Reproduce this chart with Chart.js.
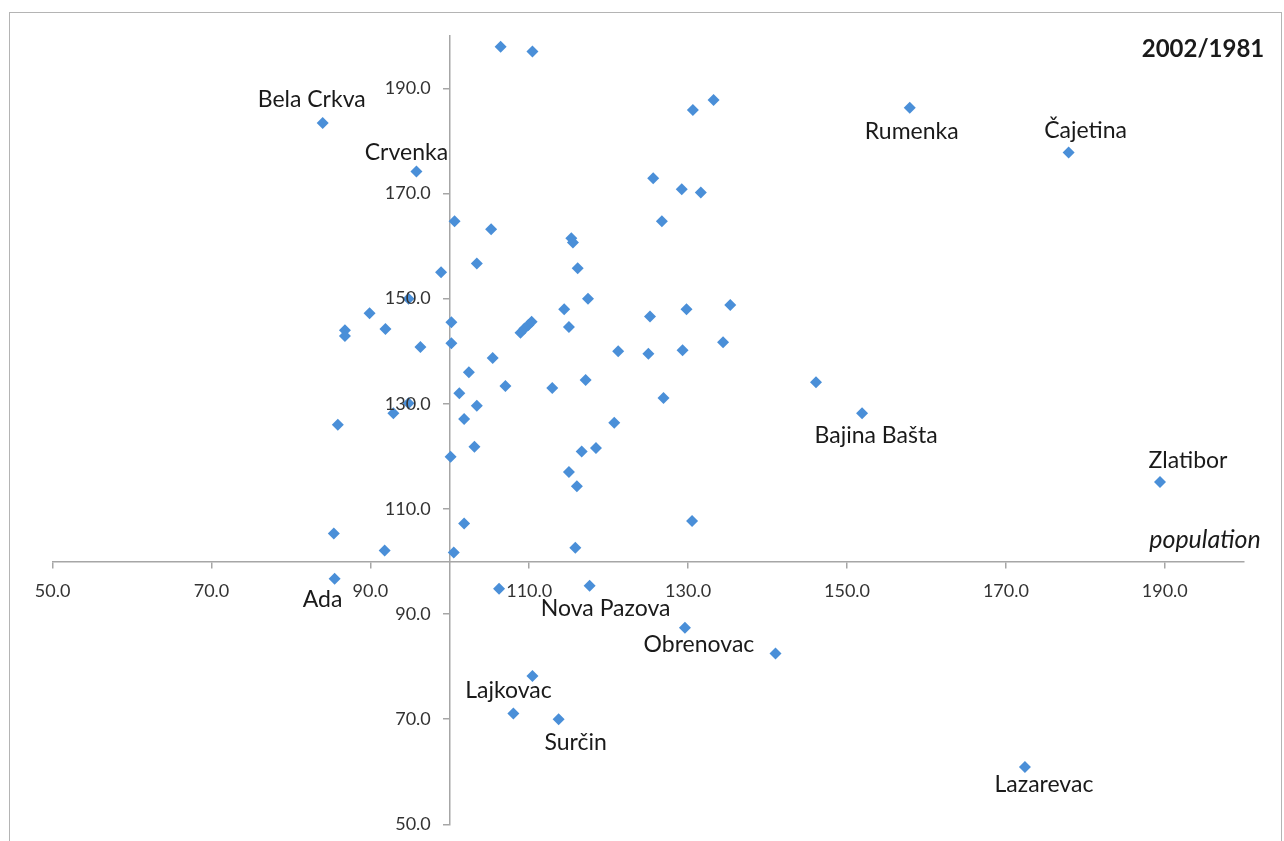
<!DOCTYPE html>
<html>
<head>
<meta charset="utf-8">
<title>2002/1981</title>
<script src="https://cdn.jsdelivr.net/npm/chart.js@4.4.1/dist/chart.umd.min.js"></script>
<style>
  html, body { margin: 0; padding: 0; background: #fff; }
  #wrap { position: relative; width: 1284px; height: 841px; overflow: hidden; }
  #frame { position: absolute; left: 9px; top: 12px; width: 1273px; height: 900px;
           border: 1.5px solid #b4b4b4; box-sizing: border-box; }
  canvas { position: absolute; left: 0; top: 0; }
</style>
</head>
<body>
<div id="wrap">
  <div id="frame"></div>
  <canvas id="chart" width="1284" height="841"></canvas>
</div>
<script>
// population index (x) and second index (y), 2002/1981
const xValues = [
  106.4, 110.4, 84.0, 95.8, 100.6, 105.2, 103.4, 98.9, 89.9, 94.8,
  86.8, 86.8, 91.9, 96.3, 100.2, 100.2, 108.9, 109.4, 109.9, 110.3,
  105.4, 102.4, 107.0, 101.2, 103.4, 94.8, 92.9, 85.9, 101.8, 103.1,
  100.1, 101.8, 85.4, 91.8, 100.5, 85.5, 106.2, 117.6, 110.4, 108.0,
  113.7, 129.6, 141.0, 172.4, 133.2, 130.6, 125.6, 129.2, 131.6, 126.7,
  115.3, 115.5, 116.1, 117.4, 114.4, 115.0, 125.2, 129.8, 135.3, 121.2,
  125.0, 129.3, 134.4, 112.9, 117.1, 126.9, 120.7, 116.6, 118.4, 115.0,
  116.0, 130.5, 115.8, 146.1, 151.9, 189.4, 157.9, 177.9
];
const yValues = [
  197.9, 197.0, 183.4, 174.2, 164.7, 163.2, 156.7, 155.0, 147.2, 150.0,
  144.0, 142.9, 144.2, 140.8, 145.5, 141.5, 143.5, 144.3, 145.0, 145.6,
  138.7, 136.0, 133.4, 132.0, 129.6, 130.1, 128.2, 126.0, 127.1, 121.8,
  119.9, 107.2, 105.3, 102.1, 101.7, 96.7, 94.8, 95.4, 78.2, 71.1,
  70.0, 87.4, 82.5, 60.9, 187.8, 185.9, 172.9, 170.8, 170.2, 164.7,
  161.5, 160.7, 155.8, 150.0, 148.0, 144.6, 146.6, 148.0, 148.8, 140.0,
  139.5, 140.2, 141.7, 133.0, 134.5, 131.1, 126.4, 120.9, 121.6, 117.0,
  114.3, 107.7, 102.6, 134.1, 128.2, 115.1, 186.3, 177.8
];
const names = [
  '', '', 'Bela Crkva', 'Crvenka', '', '', '', '', '', '',
  '', '', '', '', '', '', '', '', '', '',
  '', '', '', '', '', '', '', '', '', '',
  '', '', '', '', '', 'Ada', '', 'Nova Pazova', 'Lajkovac', '',
  'Surčin', 'Obrenovac', '', 'Lazarevac', '', '', '', '', '', '',
  '', '', '', '', '', '', '', '', '', '',
  '', '', '', '', '', '', '', '', '', '',
  '', '', '', '', 'Bajina Bašta', 'Zlatibor', 'Rumenka', 'Čajetina'
];
const xTicks = [50, 70, 90, 110, 130, 150, 170, 190];
const yTicks = [50, 70, 90, 110, 130, 150, 170, 190];

// where each name sits relative to its point, in pixels
const labelOffsets = {
  'Bela Crkva': [-11, -23], 'Crvenka': [-10, -19], 'Rumenka': [2, 24],
  'Čajetina': [17, -22], 'Bajina Bašta': [14, 22], 'Zlatibor': [28, -22],
  'Ada': [-12, 21], 'Nova Pazova': [16, 23], 'Obrenovac': [14, 17],
  'Lajkovac': [-24, 15], 'Surčin': [17, 23], 'Lazarevac': [19, 18]
};

const FONT = "Lato, 'Open Sans', sans-serif";
const axisColor = '#a6a6a6';
const tickColor = '#333333';

const points = xValues.map((x, i) => ({ x: x, y: yValues[i] }));

const textPlugin = {
  id: 'texts',
  afterDatasetsDraw(chart) {
    const ctx = chart.ctx;
    const xs = chart.scales.x, ys = chart.scales.y;
    ctx.save();

    // y tick labels, left of the crossing axis
    const axisX = xs.getPixelForValue(100);
    ctx.fillStyle = tickColor;
    ctx.font = '18px ' + FONT;
    ctx.textAlign = 'right';
    ctx.textBaseline = 'middle';
    ys.ticks.forEach(t => {
      ctx.fillText(t.value.toFixed(1), axisX - 19, ys.getPixelForValue(t.value));
    });

    ctx.fillStyle = '#1a1a1a';
    ctx.textAlign = 'center';
    ctx.font = '23px ' + FONT;
    names.forEach((n, i) => {
      if (!n) return;
      const off = labelOffsets[n] || [0, 0];
      ctx.fillText(n, xs.getPixelForValue(xValues[i]) + off[0], ys.getPixelForValue(yValues[i]) + off[1]);
    });
    ctx.font = 'bold 24px ' + FONT;
    ctx.fillText('2002/1981', 1203, 49);
    ctx.font = 'italic 25px ' + FONT;
    ctx.fillText('population', 1205, 540);
    ctx.restore();
  }
};

new Chart(document.getElementById('chart'), {
  type: 'scatter',
  data: {
    datasets: [{
      data: points,
      pointStyle: 'rectRot',
      pointRadius: 6,
      pointHoverRadius: 6,
      backgroundColor: '#4a8fd8',
      borderColor: '#4a8fd8',
      borderWidth: 0
    }]
  },
  options: {
    responsive: false,
    animation: false,
    devicePixelRatio: 1,
    layout: { padding: { left: 52.6, right: 39.8, top: 35.8, bottom: 16.7 } },
    plugins: { legend: { display: false }, tooltip: { enabled: false } },
    scales: {
      x: {
        type: 'linear',
        min: 50, max: 200,
        position: { y: 100 },
        afterBuildTicks: s => { s.ticks = xTicks.map(v => ({ value: v })); },
        border: { display: true, color: axisColor, width: 1.5 },
        grid: { drawOnChartArea: false, drawTicks: true, tickLength: 6, color: axisColor, lineWidth: 1.5 },
        ticks: {
          color: tickColor, font: { family: FONT, size: 18 }, padding: 13,
          maxRotation: 0, autoSkip: false,
          callback: v => v.toFixed(1)
        }
      },
      y: {
        type: 'linear',
        min: 50, max: 200,
        position: { x: 100 },
        afterBuildTicks: s => { s.ticks = yTicks.map(v => ({ value: v })); },
        border: { display: true, color: axisColor, width: 1.5 },
        grid: { drawOnChartArea: false, drawTicks: true, tickLength: 6, color: axisColor, lineWidth: 1.5 },
        ticks: { display: false }
      }
    }
  },
  plugins: [textPlugin]
});
</script>
</body>
</html>
